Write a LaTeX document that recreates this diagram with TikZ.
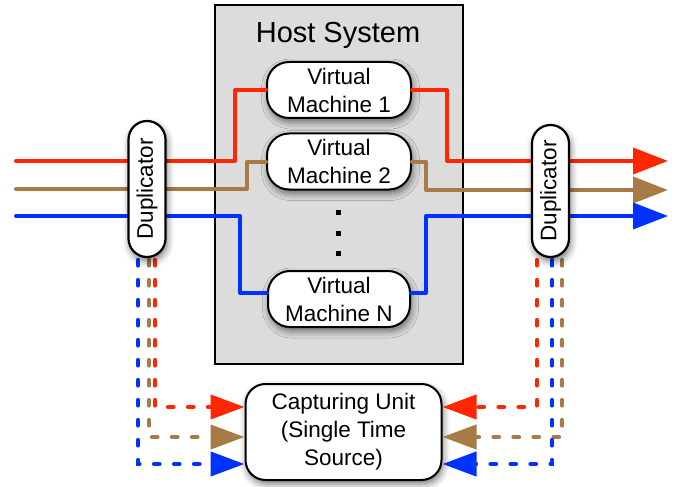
\documentclass[tikz,border=0pt]{standalone}
\usepackage{fontspec}
\setmainfont{Liberation Sans}
\usetikzlibrary{arrows.meta,shadows.blur}
\definecolor{linered}{RGB}{255,38,0}
\definecolor{linebrown}{RGB}{168,122,70}
\definecolor{lineblue}{RGB}{0,50,255}
\definecolor{hostgray}{RGB}{220,220,220}
\tikzset{
  lbl/.style={font=\fontsize{22.5}{28}\selectfont, align=center, inner sep=0pt},
  softshadow/.style={blur shadow={shadow xshift=1.5pt, shadow yshift=-4pt, shadow blur radius=7pt, shadow opacity=55}},
  vmbox/.style={lbl, draw=black, line width=2pt, fill=white, rounded corners=22pt,
    minimum width=144pt, minimum height=56pt, softshadow},
  dupbox/.style={lbl, draw=black, line width=2.2pt, fill=white, rounded corners=18.5pt,
    minimum height=37pt, rotate=90, softshadow},
  capbox/.style={lbl, draw=black, line width=2pt, fill=white, rounded corners=20pt,
    minimum width=196pt, minimum height=96pt, softshadow},
  wire/.style={line width=4pt, line join=round, line cap=round},
  outtip/.style={-{Triangle[length=35pt,width=26pt]}},
  dwire/.style={line width=4.2pt, line cap=round, dash pattern=on 5.5pt off 14.5pt,
    -{Triangle[length=34pt,width=24pt]}},
}
\begin{document}
\begin{tikzpicture}[x=1pt,y=-1pt]
\useasboundingbox (0,0) rectangle (681,487);

% host system
\node[draw=black, line width=2pt, fill=hostgray, minimum width=248pt, minimum height=359pt, inner sep=0pt]
  (host) at (339,184.5) {};
\node[font=\fontsize{29}{34}\selectfont, inner sep=0pt] (hosttitle) at (338,35) {Host System};

% virtual machines
\node[vmbox] (vm1) at (339,90) {Virtual\\Machine 1};
\node[vmbox] (vm2) at (339,161.5) {Virtual\\Machine 2};
\node[vmbox, minimum width=142pt] (vmN) at (339,299) {Virtual\\Machine N};
\foreach \yy in {212,233,253} \fill (335.5,\yy-2.5) rectangle ++(5,5);

% capturing unit
\node[capbox] (cap) at (343.5,432) {Capturing Unit\\(Single Time\\Source)};

% line end points
\coordinate (inR) at (16,161);
\coordinate (inBr) at (16,189);
\coordinate (inB) at (16,216);
\coordinate (outR) at (668,161);
\coordinate (outBr) at (668,190);
\coordinate (outB) at (668,216);
% taps below the duplicators
\coordinate (tapLR) at (155,220);
\coordinate (tapLBr) at (149,220);
\coordinate (tapLB) at (138,220);
\coordinate (tapRR) at (537,220);
\coordinate (tapRBr) at (562,220);
\coordinate (tapRB) at (552,220);

% incoming traffic
\draw[wire, linered] (inR) -| ([xshift=-31pt]vm1.west) -- (vm1.west);
\draw[wire, linebrown] (inBr) -| ([xshift=-19pt]vm2.west) -- (vm2.west);
\draw[wire, lineblue] (inB) -| ([xshift=-27pt,yshift=6pt]vmN.west) -- ([yshift=6pt]vmN.west);
% outgoing traffic
\draw[wire, outtip, linered] (vm1.east) -- ([xshift=35pt]vm1.east) |- (outR);
\draw[wire, outtip, linebrown] (vm2.east) -- ([xshift=14pt]vm2.east) |- (outBr);
\draw[wire, outtip, lineblue] ([yshift=6pt]vmN.east) -- ([xshift=15pt,yshift=6pt]vmN.east) |- (outB);
% duplicated copies to the capturing unit
\draw[dwire, linered] (tapLR) |- ([yshift=25pt]cap.west);
\draw[dwire, linebrown] (tapLBr) |- ([yshift=-5pt]cap.west);
\draw[dwire, lineblue] (tapLB) |- ([yshift=-32pt]cap.west);
\draw[dwire, linered] (tapRR) |- ([yshift=25pt]cap.east);
\draw[dwire, linebrown] (tapRBr) |- ([yshift=-5pt]cap.east);
\draw[dwire, lineblue] (tapRB) |- ([yshift=-32pt]cap.east);

% duplicators sit on top of the traffic lines
\node[dupbox, minimum width=136pt] (dupL) at (147,189) {Duplicator};
\node[dupbox, minimum width=132pt] (dupR) at (550.5,191) {Duplicator};
\end{tikzpicture}
\end{document}
